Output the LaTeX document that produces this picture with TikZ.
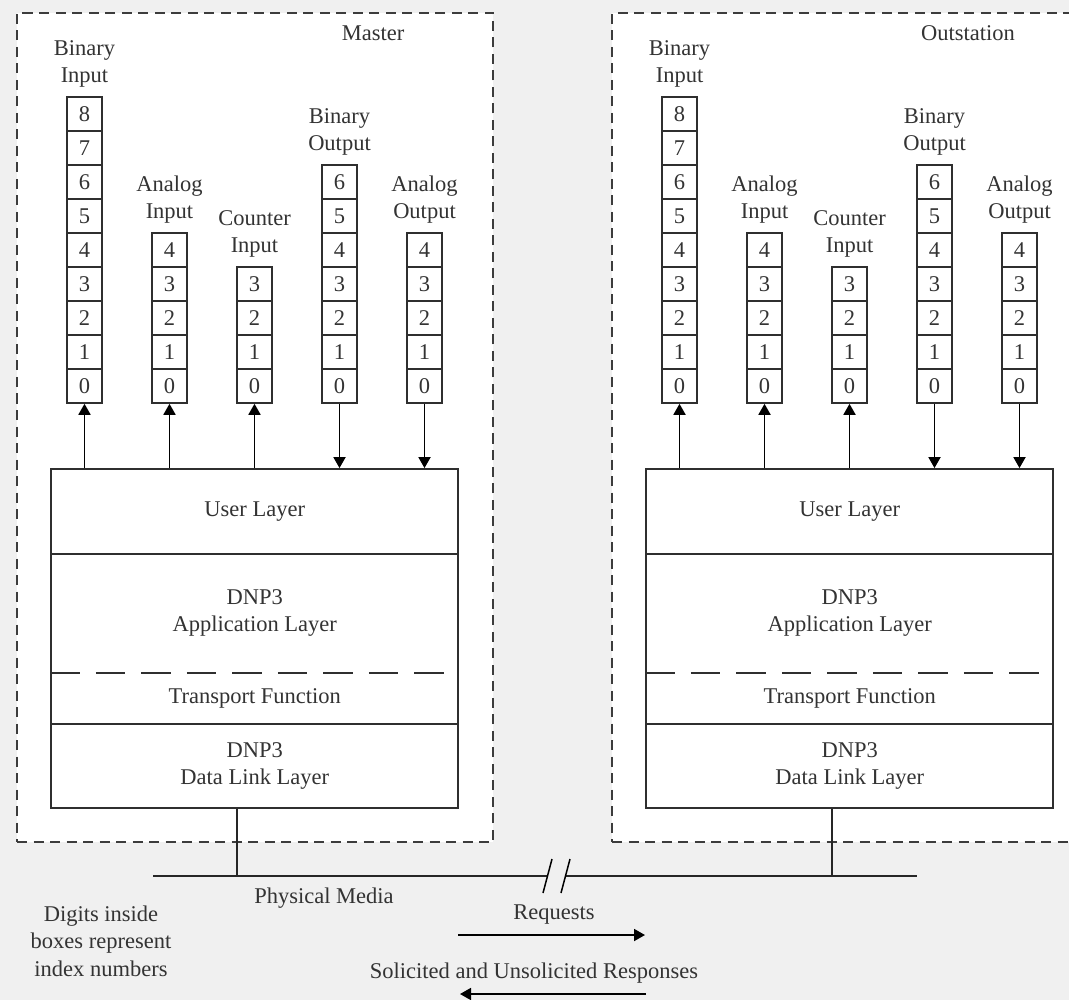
\documentclass[tikz,border=0pt]{standalone}
\usepackage{fontspec}
\setmainfont{Liberation Serif}
\usetikzlibrary{arrows.meta,calc}

\definecolor{pagebg}{HTML}{F0F0F0}
\definecolor{ink}{HTML}{333333}
\definecolor{stroke}{HTML}{2F2F2F}
\definecolor{frame}{HTML}{3C3C3C}

% one register column: #1 name, #2 centre x, #3 highest index, #4 title
\newcommand\regcol[4]{%
  \foreach \k in {0,...,#3} {
    \node[cell] (#1-\k) at (#2, {403-34*(\k+0.5)}) {\k};
  }
  \node[regtitle] (#1-title) at (#1-#3.north) {#4};
}

% one station: #1 prefix, #2 horizontal offset, #3 title
\newcommand\station[3]{%
  \begin{scope}[xshift=#2pt]
    \node[region] (#1frame) at (255,427.5) {};
    \node[anchor=base] (#1title) at (373,41) {#3};
    \regcol{#1bi}{84.5}{8}{Binary\\Input}
    \regcol{#1ai}{169.5}{4}{Analog\\Input}
    \regcol{#1ci}{254.5}{3}{Counter\\Input}
    \regcol{#1bo}{339.5}{6}{Binary\\Output}
    \regcol{#1ao}{424.5}{4}{Analog\\Output}
    % protocol stack
    \node[stackbox] (#1stack) at (254.75,638.5) {};
    \draw[sep] (#1stack.west |- 0,554) -- (#1stack.east |- 0,554);
    \draw[sep, dash pattern=on 29.5pt off 16pt]
      (#1stack.west |- 0,673) -- ($(#1stack.east |- 0,673)+(-12.5,0)$);
    \draw[sep] (#1stack.west |- 0,724) -- (#1stack.east |- 0,724);
    \node (#1user) at (254.75,511.5) {User Layer};
    \node[align=center] (#1app) at (254.75,613) {DNP3\\Application Layer};
    \node (#1trans) at (254.75,698.5) {Transport Function};
    \node[align=center] (#1link) at (254.75,766) {DNP3\\Data Link Layer};
    % data flow between the user layer and the point tables
    \draw[flow] (#1bi-0.south |- #1stack.north) -- (#1bi-0.south);
    \draw[flow] (#1ai-0.south |- #1stack.north) -- (#1ai-0.south);
    \draw[flow] (#1ci-0.south |- #1stack.north) -- (#1ci-0.south);
    \draw[flow] (#1bo-0.south) -- (#1bo-0.south |- #1stack.north);
    \draw[flow] (#1ao-0.south) -- (#1ao-0.south |- #1stack.north);
    % link to the physical media
    \coordinate (#1tap) at ($(#1stack.south west)+(187,0)$);
  \end{scope}
}

\begin{document}
\begin{tikzpicture}[x=1pt,y=-1pt,
  every node/.style={font=\fontsize{22.5}{27.5}\selectfont, text=ink},
  cell/.style={draw=stroke, line width=1.6pt, fill=white,
    minimum width=35pt, minimum height=34pt, inner sep=0pt},
  regtitle/.style={anchor=south, align=center, inner sep=0pt, yshift=8.6pt},
  stackbox/.style={draw=stroke, line width=1.8pt, fill=white,
    minimum width=407pt, minimum height=339pt, inner sep=0pt},
  sep/.style={draw=stroke, line width=1.8pt},
  region/.style={draw=frame, dash pattern=on 10pt off 6.5pt, line width=1.6pt,
    fill=white, minimum width=476pt, minimum height=829pt, inner sep=0pt},
  flow/.style={draw=black, line width=1.8pt, -{Triangle[length=11pt,width=12pt]}},
  bus/.style={draw=black!85, line width=1.8pt},
]
\useasboundingbox (0,0) rectangle (1069,1000);
\fill[pagebg] (0,0) rectangle (1069,1000);
\clip (0,0) rectangle (1069,1000);

\station{m}{0}{Master}
\station{o}{595}{Outstation}

% physical media with a break mark
\coordinate (busL) at (153,876);
\coordinate (gapL) at (547.5,876);
\coordinate (gapR) at (565.5,876);
\coordinate (busR) at (917,876);
\draw[bus] (busL) -- (gapL);
\draw[bus] (gapR) -- (busR);
\draw[line width=1.5pt] (552,859) -- (543,893);
\draw[line width=1.5pt] (570,859) -- (561,893);
\draw[bus] (mtap) -- (mtap |- busL);
\draw[bus] (otap) -- (otap |- busL);

\node (media) at (324,898) {Physical Media};
\node[align=center] (note) at (101,941) {Digits inside\\boxes represent\\index numbers};
\node (req) at (554,915) {Requests};
\node (resp) at (534,973) {Solicited and Unsolicited Responses};

\coordinate (reqA) at (458,935);
\coordinate (reqB) at (645,935);
\coordinate (respA) at (646,994);
\coordinate (respB) at (460,994);
\draw[flow] (reqA) -- (reqB);
\draw[flow] (respA) -- (respB);
\end{tikzpicture}
\end{document}
